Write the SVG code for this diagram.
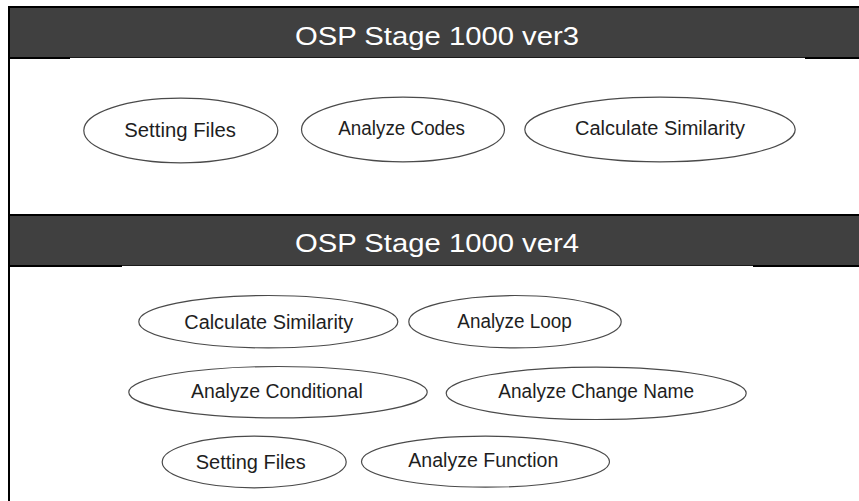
<svg xmlns="http://www.w3.org/2000/svg" width="859" height="501" viewBox="0 0 859 501">
<style>
  .bar{fill:#404040}
  .blk{fill:#000}
  .hdr{font-family:"Liberation Sans",Arial,sans-serif;font-size:26px;fill:#fff}
  .node ellipse{fill:#fff;stroke:#4a4a4a;stroke-width:1.2}
  .node text{font-family:"Liberation Sans",Arial,sans-serif;font-size:20px;fill:#1e1e1e}
</style>
<rect x="0" y="0" width="859" height="501" fill="#fff"/>
<!-- frame and headers -->
<g id="frame">
  <rect class="blk" x="8" y="6" width="851" height="2"/>
  <rect class="bar" x="10" y="8" width="849" height="49"/>
  <rect x="10" y="57" width="849" height="1" fill="#1a1a1a"/>
  <rect class="blk" x="8" y="57" width="62" height="2"/>
  <rect class="blk" x="805" y="57" width="54" height="2"/>
  <rect class="blk" x="8" y="214" width="851" height="2"/>
  <rect class="bar" x="10" y="216" width="849" height="49"/>
  <rect x="10" y="265" width="849" height="1" fill="#1a1a1a"/>
  <rect class="blk" x="8" y="265" width="114" height="2"/>
  <rect class="blk" x="753" y="265" width="106" height="2"/>
  <rect class="blk" x="8" y="6" width="2" height="495"/>
  <text class="hdr" x="295" y="45" textLength="284" lengthAdjust="spacingAndGlyphs">OSP Stage 1000 ver3</text>
  <text class="hdr" x="295" y="252" textLength="284" lengthAdjust="spacingAndGlyphs">OSP Stage 1000 ver4</text>
</g>
<g id="connectors"></g>
<!-- ver3 nodes -->
<g id="v3-setting-files" class="node">
  <ellipse cx="180.8" cy="130.5" rx="97" ry="32.3"/>
  <text x="124.3" y="137.3" textLength="111.7" lengthAdjust="spacingAndGlyphs">Setting Files</text>
</g>
<g id="v3-analyze-codes" class="node">
  <ellipse cx="403" cy="129.5" rx="101.5" ry="32.3"/>
  <text x="338.3" y="135" textLength="126.7" lengthAdjust="spacingAndGlyphs">Analyze Codes</text>
</g>
<g id="v3-calculate-similarity" class="node">
  <ellipse cx="660" cy="129.5" rx="135.2" ry="32.3"/>
  <text x="575" y="135" textLength="170" lengthAdjust="spacingAndGlyphs">Calculate Similarity</text>
</g>
<!-- ver4 nodes -->
<g id="v4-calculate-similarity" class="node">
  <ellipse cx="268.3" cy="321.7" rx="129.5" ry="26.2"/>
  <text x="184.3" y="329" textLength="169" lengthAdjust="spacingAndGlyphs">Calculate Similarity</text>
</g>
<g id="v4-analyze-loop" class="node">
  <ellipse cx="515" cy="321.7" rx="106.2" ry="26.2"/>
  <text x="457.3" y="328.3" textLength="114.4" lengthAdjust="spacingAndGlyphs">Analyze Loop</text>
</g>
<g id="v4-analyze-conditional" class="node">
  <ellipse cx="278" cy="392.2" rx="149.2" ry="25.7"/>
  <text x="191" y="398.3" textLength="171.7" lengthAdjust="spacingAndGlyphs">Analyze Conditional</text>
</g>
<g id="v4-analyze-change-name" class="node">
  <ellipse cx="596.2" cy="393.3" rx="150" ry="26.2"/>
  <text x="498.3" y="398.3" textLength="195.7" lengthAdjust="spacingAndGlyphs">Analyze Change Name</text>
</g>
<g id="v4-setting-files" class="node">
  <ellipse cx="254.2" cy="462" rx="92" ry="25.8"/>
  <text x="195.7" y="469.3" textLength="110" lengthAdjust="spacingAndGlyphs">Setting Files</text>
</g>
<g id="v4-analyze-function" class="node">
  <ellipse cx="485.5" cy="461.7" rx="124" ry="25.5"/>
  <text x="408.3" y="467.3" textLength="150" lengthAdjust="spacingAndGlyphs">Analyze Function</text>
</g>
</svg>
